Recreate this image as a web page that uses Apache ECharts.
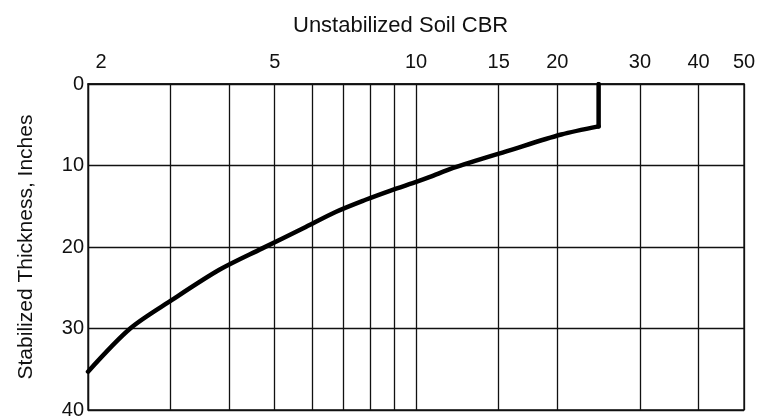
<!DOCTYPE html>
<html>
<head>
<meta charset="utf-8">
<script src="https://cdn.jsdelivr.net/npm/echarts@6/dist/echarts.min.js"></script>
<style>
  html, body { margin: 0; padding: 0; background: #fff; }
  #chart { width: 764px; height: 420px; }
</style>
</head>
<body>
<div id="chart"></div>
<script>
// Design curve: unstabilized soil CBR (log scale) vs required stabilized thickness.
// The curved branch ends near CBR 24.5; above 5.2 in. the requirement is a vertical cut-off.
const cbrValues       = [2, 2.46, 3.02, 3.81, 4.69, 5.75, 6.74, 7.81, 8.8, 10.08, 10.71, 12.0, 15.7, 20.4, 24.5];
const thicknessValues = [35.3, 30.0, 26.5, 22.8, 20.2, 17.7, 15.7, 14.2, 13.1, 11.95, 11.4, 10.3, 8.2, 6.2, 5.2];
const cutoffCbr       = [24.5, 24.5];
const cutoffThickness = [5.2, 0];

const cbrGridLines = [2, 3, 4, 5, 6, 7, 8, 9, 10, 15, 20, 30, 40, 50];
const cbrTickLabels = [2, 5, 10, 15, 20, 30, 40, 50];
const thicknessTicks = [0, 10, 20, 30, 40];

const titleText = 'Unstabilized Soil CBR';
const yAxisTitle = 'Stabilized Thickness, Inches';

const FONT = '"Liberation Sans", Arial, Helvetica, sans-serif';

const curve = cbrValues.map((c, i) => [c, thicknessValues[i]]);
const cutoff = cutoffCbr.map((c, i) => [c, cutoffThickness[i]]);

const lineStyle = { color: '#000', width: 4.5, join: 'round', cap: 'round' };

const chart = echarts.init(document.getElementById('chart'), null, { renderer: 'canvas' });
chart.setOption({
  animation: false,
  backgroundColor: '#fff',
  title: {
    text: titleText,
    left: 288,
    top: 10,
    textStyle: { fontFamily: FONT, fontSize: 22, fontWeight: 'normal', color: '#111' }
  },
  grid: {
    left: 88, right: 20, top: 84, bottom: 7,
    show: true, borderColor: '#111', borderWidth: 1.3
  },
  xAxis: {
    type: 'log',
    logBase: 10,
    min: 2,
    max: 50,
    position: 'top',
    axisLine: { show: true, lineStyle: { color: '#111', width: 1.5 } },
    axisTick: { show: false, customValues: cbrGridLines },
    axisLabel: {
      customValues: cbrTickLabels,
      margin: 12,
      fontFamily: FONT,
      fontSize: 20,
      color: '#111',
      formatter: v => (v === 2 ? '{first|2}' : String(v)),
      rich: { first: { padding: [0, 0, 0, 26], fontFamily: FONT, fontSize: 20, color: '#111' } }
    },
    splitLine: { show: true, lineStyle: { color: '#111', width: 1.3 } }
  },
  yAxis: {
    type: 'value',
    inverse: true,
    min: 0,
    max: 40,
    interval: 10,
    name: yAxisTitle,
    nameLocation: 'middle',
    nameGap: 51,
    nameRotate: 90,
    nameTextStyle: { fontFamily: FONT, fontSize: 21, color: '#111' },
    axisLine: { show: true, lineStyle: { color: '#111', width: 1.3 } },
    axisTick: { show: false },
    axisLabel: {
      margin: 4,
      fontFamily: FONT,
      fontSize: 20,
      color: '#111',
      customValues: thicknessTicks
    },
    splitLine: { show: true, lineStyle: { color: '#111', width: 1.3 } }
  },
  series: [
    {
      type: 'line',
      data: curve,
      smooth: 0.3,
      showSymbol: false,
      symbol: 'none',
      lineStyle: lineStyle,
      z: 5
    },
    {
      type: 'line',
      data: cutoff,
      showSymbol: false,
      symbol: 'none',
      lineStyle: lineStyle,
      z: 5
    }
  ]
});
</script>
</body>
</html>
